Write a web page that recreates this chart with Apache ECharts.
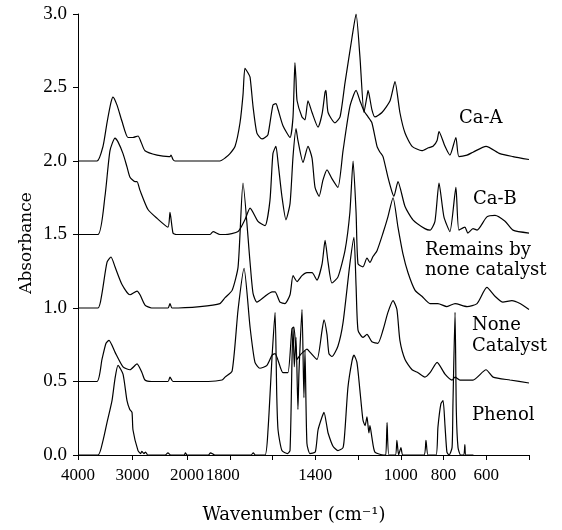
<!DOCTYPE html>
<html>
<head>
<meta charset="utf-8">
<script src="https://cdn.jsdelivr.net/npm/echarts@6/dist/echarts.min.js"></script>
<style>
html,body{margin:0;padding:0;background:#fff;}
#chart{width:562px;height:530px;}
</style>
</head>
<body>
<div id="chart"></div>
<script>
// ---- data (wavenumber cm-1, absorbance) ----
const tickWavenumbers = [4000,3000,2000,1800,1600,1400,1200,1000,800,600,400];
const labelWavenumbers = [4000,3000,2000,1800,1400,1000,800,600];
const seriesNames = ['Ca-A','Ca-B','Remains by none catalyst','None Catalyst','Phenol'];

const caA = [[4000,2.00],[3651,2.00],[3541,2.10],[3468,2.26],[3394,2.40],[3358,2.435],[3284,2.38],[3193,2.27],[3083,2.16],[2991,2.16],[2899,2.17],[2844,2.13],[2771,2.07],[2550,2.04],[2330,2.03],[2312,2.03],[2293,2.04],[2257,2.01],[2220,2.00],[2000,2.00],[1846,2.00],[1822,2.02],[1799,2.05],[1775,2.10],[1752,2.26],[1738,2.45],[1729,2.63],[1715,2.60],[1705,2.57],[1691,2.37],[1673,2.19],[1649,2.15],[1635,2.16],[1621,2.18],[1598,2.38],[1584,2.39],[1574,2.35],[1551,2.24],[1518,2.16],[1504,2.30],[1495,2.67],[1490,2.55],[1485,2.41],[1462,2.30],[1448,2.28],[1434,2.41],[1415,2.33],[1387,2.23],[1368,2.32],[1354,2.47],[1350,2.48],[1340,2.33],[1308,2.26],[1284,2.30],[1261,2.53],[1228,2.84],[1209,3.00],[1191,2.71],[1172,2.33],[1158,2.44],[1153,2.48],[1135,2.35],[1121,2.30],[1088,2.33],[1050,2.41],[1027,2.54],[1004,2.33],[980,2.19],[947,2.10],[901,2.07],[870,2.09],[849,2.10],[830,2.14],[821,2.20],[793,2.10],[770,2.04],[742,2.16],[728,2.03],[690,2.04],[662,2.06],[601,2.10],[536,2.05],[475,2.03],[400,2.01]];

const caB = [[4000,1.50],[3633,1.50],[3505,1.76],[3413,2.07],[3321,2.156],[3266,2.13],[3174,2.05],[3101,1.96],[3046,1.89],[2954,1.86],[2917,1.86],[2862,1.80],[2716,1.67],[2550,1.61],[2349,1.55],[2312,1.65],[2257,1.51],[2200,1.50],[1892,1.50],[1878,1.52],[1846,1.50],[1822,1.50],[1761,1.52],[1729,1.60],[1705,1.68],[1668,1.59],[1635,1.56],[1612,1.73],[1598,2.05],[1584,2.10],[1574,1.99],[1556,1.76],[1537,1.60],[1518,1.71],[1504,2.03],[1490,2.22],[1481,2.14],[1457,1.99],[1434,2.10],[1415,2.02],[1401,1.82],[1382,1.76],[1364,1.87],[1345,1.94],[1322,1.88],[1294,1.82],[1270,2.07],[1238,2.37],[1209,2.48],[1191,2.41],[1172,2.34],[1153,2.30],[1135,2.26],[1111,2.10],[1097,2.06],[1083,2.03],[1060,1.89],[1041,1.79],[1032,1.76],[1013,1.86],[980,1.69],[943,1.60],[887,1.54],[863,1.53],[840,1.59],[821,1.85],[798,1.62],[770,1.52],[742,1.82],[728,1.53],[700,1.55],[686,1.51],[662,1.54],[643,1.53],[597,1.62],[559,1.63],[512,1.59],[475,1.53],[400,1.51]];

const remains = [[4000,1.00],[3633,1.00],[3560,1.10],[3468,1.31],[3394,1.347],[3321,1.28],[3193,1.16],[3046,1.09],[2917,1.115],[2862,1.09],[2771,1.02],[2650,1.00],[2349,1.00],[2312,1.03],[2275,1.00],[1939,1.01],[1846,1.03],[1822,1.07],[1789,1.12],[1761,1.28],[1738,1.85],[1705,1.31],[1691,1.10],[1673,1.04],[1635,1.08],[1602,1.11],[1588,1.11],[1565,1.04],[1542,1.03],[1518,1.09],[1504,1.22],[1485,1.18],[1462,1.22],[1439,1.24],[1415,1.24],[1392,1.19],[1368,1.30],[1354,1.46],[1340,1.31],[1322,1.17],[1294,1.21],[1261,1.39],[1238,1.65],[1223,2.00],[1209,1.65],[1200,1.30],[1177,1.28],[1158,1.34],[1144,1.31],[1130,1.35],[1111,1.39],[1083,1.51],[1060,1.62],[1036,1.75],[1013,1.55],[990,1.37],[966,1.24],[933,1.12],[901,1.08],[863,1.03],[826,1.03],[784,1.01],[746,1.03],[690,1.01],[643,1.03],[597,1.14],[559,1.08],[522,1.04],[480,1.05],[442,1.03],[400,0.99]];

const noneCat = [[4000,0.50],[3651,0.50],[3560,0.65],[3486,0.76],[3431,0.78],[3321,0.70],[3174,0.60],[3046,0.58],[2917,0.62],[2826,0.56],[2771,0.51],[2650,0.50],[2349,0.50],[2312,0.53],[2257,0.50],[1900,0.50],[1836,0.51],[1822,0.53],[1789,0.57],[1761,0.99],[1733,1.27],[1705,0.87],[1682,0.63],[1659,0.59],[1626,0.61],[1602,0.68],[1588,0.69],[1551,0.56],[1528,0.56],[1509,0.86],[1500,0.87],[1485,0.65],[1471,0.68],[1457,0.70],[1439,0.72],[1425,0.70],[1392,0.65],[1368,0.85],[1359,0.92],[1345,0.82],[1336,0.69],[1322,0.67],[1294,0.74],[1270,0.90],[1238,1.30],[1219,1.48],[1209,1.15],[1200,0.85],[1177,0.80],[1158,0.82],[1135,0.77],[1107,0.76],[1083,0.85],[1060,0.97],[1036,1.05],[1018,0.99],[1004,0.78],[980,0.65],[947,0.58],[919,0.56],[887,0.53],[863,0.56],[830,0.63],[793,0.55],[760,0.51],[746,0.53],[723,0.51],[662,0.51],[601,0.58],[568,0.53],[489,0.51],[400,0.49]];

const phenol = [[4000,0],[3633,0],[3540,0.10],[3468,0.22],[3376,0.37],[3321,0.52],[3266,0.61],[3174,0.55],[3101,0.37],[3050,0.31],[3009,0.29],[2991,0.17],[2899,0.03],[2850,0.01],[2830,0.025],[2790,0.01],[2760,0.02],[2720,0],[2400,0],[2350,0.015],[2300,0],[2050,0],[2030,0.015],[2000,0],[1900,0],[1890,0.015],[1870,0],[1700,0],[1690,0.015],[1680,0],[1635,0],[1621,0.17],[1602,0.67],[1588,0.97],[1580,0.4],[1574,0.17],[1556,0.03],[1530,0.01],[1518,0.03],[1509,0.63],[1504,0.87],[1498,0.6],[1490,0.80],[1481,0.31],[1476,0.57],[1462,0.99],[1453,0.39],[1448,0.71],[1439,0.08],[1425,0.01],[1400,0.02],[1387,0.17],[1368,0.26],[1359,0.29],[1345,0.19],[1340,0.15],[1317,0.06],[1294,0.03],[1270,0.05],[1261,0.17],[1247,0.46],[1228,0.64],[1219,0.68],[1205,0.63],[1191,0.44],[1177,0.24],[1167,0.20],[1158,0.26],[1149,0.15],[1144,0.20],[1135,0.12],[1121,0.02],[1080,0],[1070,0],[1064,0.22],[1055,0],[1025,0],[1018,0.10],[1010,0],[999,0.05],[990,0],[892,0],[882,0.10],[872,0],[835,0],[826,0.19],[812,0.35],[802,0.37],[793,0.20],[784,0.02],[774,0],[760,0.05],[756,0.33],[746,0.97],[740,0.3],[732,0.05],[720,0],[705,0],[700,0.07],[695,0],[660,0]];

// ---- piecewise wavenumber scale (compressed above 2000 cm-1) ----
const SPAN_HI = 109, SPAN_LO = 342;
function pos(w){ return w >= 2000 ? (4000 - w) / 2000 * SPAN_HI : SPAN_HI + (2000 - w) / 1600 * SPAN_LO; }
function wnOf(p){ return p <= SPAN_HI ? 4000 - p / SPAN_HI * 2000 : 2000 - (p - SPAN_HI) / SPAN_LO * 1600; }

const FONT_TICK = 'Liberation Serif';
const allData = [caA, caB, remains, noneCat, phenol];

const chart = echarts.init(document.getElementById('chart'), null, {renderer:'canvas'});
chart.setOption({
  animation:false,
  backgroundColor:'#fff',
  grid:{left:78,right:33,top:14,bottom:75,containLabel:false,outerBoundsMode:'none'},
  xAxis:{
    type:'value', min:0, max:SPAN_HI + SPAN_LO,
    splitLine:{show:false},
    axisLine:{lineStyle:{color:'#000',width:1}},
    axisTick:{show:true,length:5,inside:false,lineStyle:{color:'#000'},customValues:tickWavenumbers.map(pos)},
    axisLabel:{
      customValues:labelWavenumbers.map(pos),
      color:'#000', fontFamily:FONT_TICK, fontSize:17, margin:12,
      formatter:function(v){ const w = Math.round(wnOf(v)/100)*100; return w === 1800 ? '{s|1800}' : String(w); },
      rich:{s:{color:'#000',fontFamily:FONT_TICK,fontSize:17,padding:[0,14,0,0]}}
    }
  },
  yAxis:{
    type:'value', min:0, max:3, interval:0.5,
    splitLine:{show:false},
    axisLine:{show:true,lineStyle:{color:'#000',width:1}},
    axisTick:{show:true,length:5,inside:false,lineStyle:{color:'#000'}},
    axisLabel:{color:'#000',fontFamily:FONT_TICK,fontSize:19,margin:11,formatter:function(v){return v.toFixed(1);}}
  },
  graphic:[
    {type:'text',x:27,y:243,rotation:Math.PI/2,style:{text:'Absorbance',fill:'#000',font:'17px "DejaVu Serif"',align:'center',verticalAlign:'middle'}},
    {type:'text',x:294,y:515,style:{text:'Wavenumber (cm\u207B\u00B9)',fill:'#000',font:'18px "DejaVu Serif"',align:'center',verticalAlign:'middle'}},
    {type:'text',x:459,y:118,style:{text:'Ca-A',fill:'#000',font:'18px "DejaVu Serif"',align:'left',verticalAlign:'middle'}},
    {type:'text',x:473,y:199,style:{text:'Ca-B',fill:'#000',font:'18px "DejaVu Serif"',align:'left',verticalAlign:'middle'}},
    {type:'text',x:425,y:250,style:{text:'Remains by',fill:'#000',font:'18px "DejaVu Serif"',align:'left',verticalAlign:'middle'}},
    {type:'text',x:425,y:270,style:{text:'none catalyst',fill:'#000',font:'18px "DejaVu Serif"',align:'left',verticalAlign:'middle'}},
    {type:'text',x:472,y:325,style:{text:'None',fill:'#000',font:'18px "DejaVu Serif"',align:'left',verticalAlign:'middle'}},
    {type:'text',x:472,y:346,style:{text:'Catalyst',fill:'#000',font:'18px "DejaVu Serif"',align:'left',verticalAlign:'middle'}},
    {type:'text',x:472,y:415,style:{text:'Phenol',fill:'#000',font:'18px "DejaVu Serif"',align:'left',verticalAlign:'middle'}}
  ],
  series: allData.map(function(d,i){
    return {
      name:seriesNames[i], type:'line', showSymbol:false, smooth:0.2,
      lineStyle:{color:'#000',width:1.2},
      data:d.map(function(p){return [pos(p[0]), p[1]];})
    };
  })
});
</script>
</body>
</html>
